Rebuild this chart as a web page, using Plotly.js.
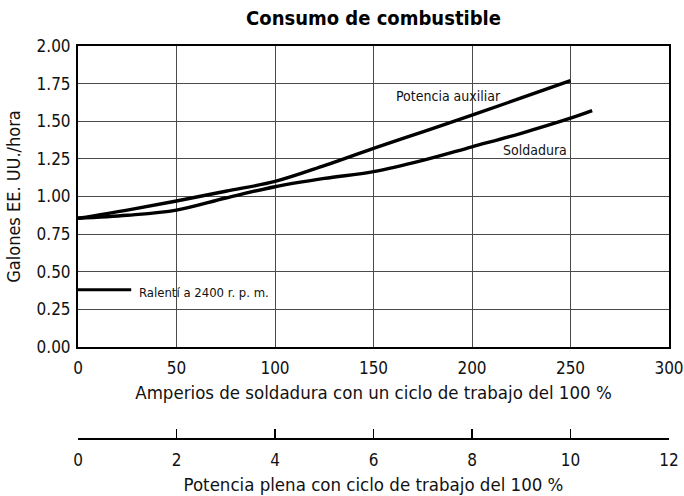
<!DOCTYPE html>
<html>
<head>
<meta charset="utf-8">
<script src="https://cdn.plot.ly/plotly-3.0.1.min.js"></script>
<style>html,body{margin:0;padding:0;background:#fff;}#chart{width:684px;height:496px;}</style>
</head>
<body>
<div id="chart"></div>
<script>
// Data
const auxAmps = [0, 25, 50, 75, 100, 125, 150, 175, 200, 225, 250];
const auxGal  = [0.855, 0.91, 0.97, 1.035, 1.10, 1.205, 1.32, 1.43, 1.54, 1.655, 1.77];
const soldAmps = [0, 25, 50, 75, 100, 125, 150, 175, 200, 225, 250, 261];
const soldGal  = [0.855, 0.875, 0.91, 0.99, 1.065, 1.12, 1.165, 1.24, 1.33, 1.42, 1.52, 1.57];
const idleAmps = [0, 27];
const idleGal  = [0.38, 0.38];
const yTicks = [0, 0.25, 0.5, 0.75, 1.0, 1.25, 1.5, 1.75, 2.0];
const yTickText = ["0.00","0.25","0.50","0.75","1.00","1.25","1.50","1.75","2.00"];
const ampTicks = [0, 50, 100, 150, 200, 250, 300];
const kwTicks = [0, 2, 4, 6, 8, 10, 12];
const labels = [
  {text: "Potencia auxiliar", x: 188, y: 1.665},
  {text: "Soldadura", x: 232, y: 1.31},
  {text: "Ralentí a 2400 r. p. m.", x: 30, y: 0.36}
];

const FONT = '"Liberation Sans Narrow", "DejaVu Sans Condensed", "Liberation Sans", Arial, sans-serif';

const lineStyle = {color: '#000', width: 3.4, shape: 'spline'};
const traces = [
  {x: auxAmps, y: auxGal, mode: 'lines', line: lineStyle, hoverinfo: 'skip', xaxis: 'x', yaxis: 'y'},
  {x: soldAmps, y: soldGal, mode: 'lines', line: lineStyle, hoverinfo: 'skip', xaxis: 'x', yaxis: 'y'},
  {x: idleAmps, y: idleGal, mode: 'lines', line: {color: '#000', width: 3}, hoverinfo: 'skip', xaxis: 'x', yaxis: 'y'},
  {x: [0, 12], y: [null, null], mode: 'lines', hoverinfo: 'skip', xaxis: 'x2', yaxis: 'y', showlegend: false}
];

const annotations = labels.map((l, i) => ({
  text: l.text, x: l.x, y: l.y, xref: 'x', yref: 'y', showarrow: false,
  xanchor: i === 2 ? 'left' : 'center', yanchor: 'middle',
  font: {family: FONT, size: i === 2 ? 13 : 14, color: '#111'}
}));

const layout = {
  width: 684, height: 496,
  margin: {l: 78, r: 15, t: 46, b: 4},
  paper_bgcolor: '#fff', plot_bgcolor: '#fff',
  showlegend: false,
  font: {family: FONT, color: '#111', size: 17},
  title: {text: '<b>Consumo de combustible</b>', font: {family: FONT, size: 20, color: '#000'},
          x: 0.5, xref: 'paper', y: 1 - 18/496, yref: 'container', yanchor: 'middle'},
  xaxis: {
    range: [0, 300], tickvals: ampTicks, ticktext: ampTicks.map(String),
    showgrid: true, gridcolor: '#4a4a4a', gridwidth: 1,
    showline: true, linecolor: '#000', linewidth: 2, mirror: true,
    ticks: '', zeroline: false, anchor: 'y', automargin: false,
    ticklabelstandoff: 5,
    tickfont: {family: FONT, size: 17, color: '#111'},
    title: {text: 'Amperios de soldadura con un ciclo de trabajo del 100 %', font: {family: FONT, size: 18.5, color: '#111'}, standoff: 9}
  },
  yaxis: {
    range: [0, 2], domain: [(496 - 4 - 347) / (496 - 50), 1], tickvals: yTicks, ticktext: yTickText,
    showgrid: true, gridcolor: '#4a4a4a', gridwidth: 1,
    showline: true, linecolor: '#000', linewidth: 2, mirror: true,
    ticks: '', zeroline: false, automargin: false,
    ticklabelstandoff: 2,
    tickfont: {family: FONT, size: 17, color: '#111'},
    title: {text: 'Galones EE. UU./hora', font: {family: FONT, size: 18, color: '#111'}, standoff: 11}
  },
  xaxis2: {
    range: [0, 12], tickvals: kwTicks, ticktext: kwTicks.map(String),
    overlaying: 'x', anchor: 'free', position: (496 - 4 - 438.3) / (496 - 50), side: 'bottom',
    showgrid: false, zeroline: false, automargin: false,
    showline: true, linecolor: '#000', linewidth: 1.5,
    ticks: 'inside', ticklen: 9, tickwidth: 1.5, tickcolor: '#000',
    ticklabelstandoff: 6,
    tickfont: {family: FONT, size: 17, color: '#111'},
    title: {text: 'Potencia plena con ciclo de trabajo del 100 %', font: {family: FONT, size: 18.5, color: '#111'}, standoff: 9}
  },
  annotations: annotations
};

Plotly.newPlot('chart', traces, layout, {staticPlot: true, displayModeBar: false});
</script>
</body>
</html>
